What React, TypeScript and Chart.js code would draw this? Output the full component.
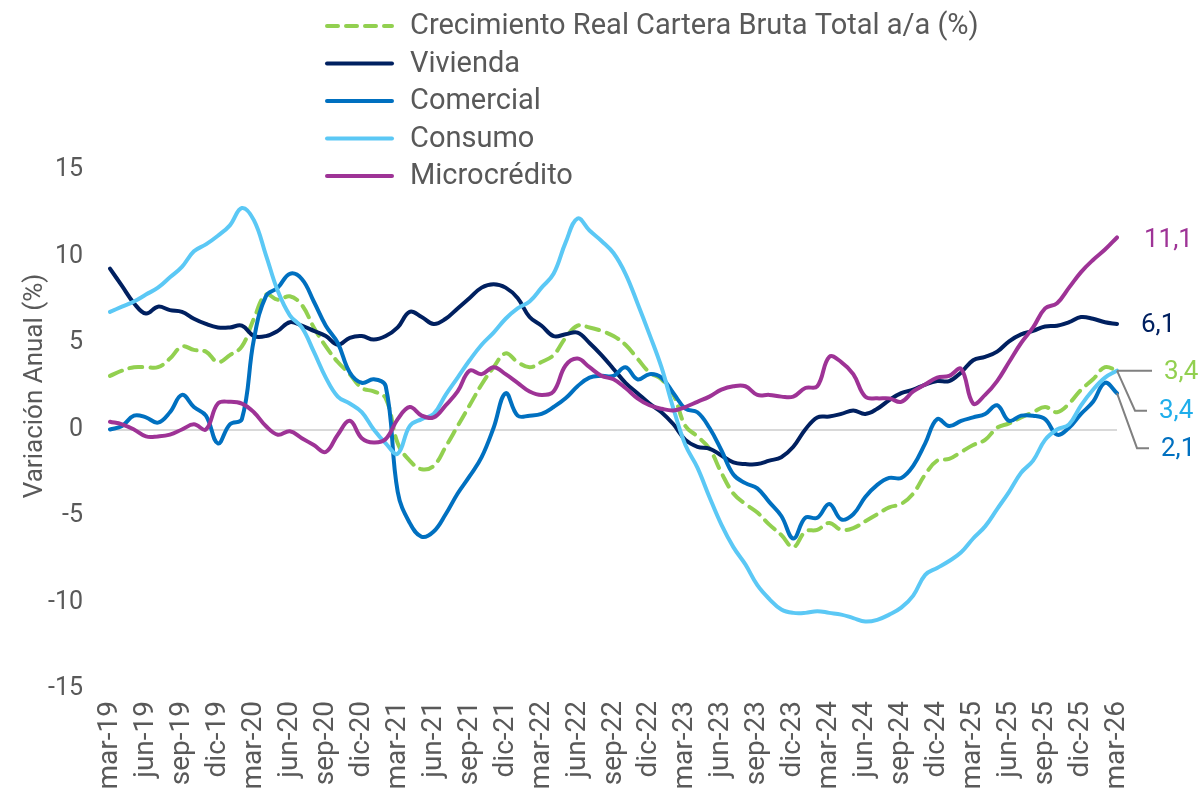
import React, { useEffect, useRef } from "react";
import { Chart, registerables } from "chart.js";
Chart.register(...registerables);

const categories = [
  "mar-19","abr-19","may-19","jun-19","jul-19","ago-19","sep-19","oct-19","nov-19","dic-19",
  "ene-20","feb-20","mar-20","abr-20","may-20","jun-20","jul-20","ago-20","sep-20","oct-20","nov-20","dic-20",
  "ene-21","feb-21","mar-21","abr-21","may-21","jun-21","jul-21","ago-21","sep-21","oct-21","nov-21","dic-21",
  "ene-22","feb-22","mar-22","abr-22","may-22","jun-22","jul-22","ago-22","sep-22","oct-22","nov-22","dic-22",
  "ene-23","feb-23","mar-23","abr-23","may-23","jun-23","jul-23","ago-23","sep-23","oct-23","nov-23","dic-23",
  "ene-24","feb-24","mar-24","abr-24","may-24","jun-24","jul-24","ago-24","sep-24","oct-24","nov-24","dic-24",
  "ene-25","feb-25","mar-25","abr-25","may-25","jun-25","jul-25","ago-25","sep-25","oct-25","nov-25","dic-25",
  "ene-26","feb-26","mar-26",
];

const total = [
  3.1, 3.4, 3.6, 3.6, 3.6, 4.1, 4.8, 4.6, 4.5, 3.9, 4.3, 4.8,
  6.4, 7.8, 7.5, 7.7, 7.2, 5.9, 4.8, 3.9, 3.2, 2.4, 2.2, 1.8,
  -0.8, -1.8, -2.3, -2.1, -1.0, 0.2, 1.4, 2.6, 3.6, 4.4, 3.9, 3.6,
  3.9, 4.3, 5.3, 6.0, 5.9, 5.7, 5.4, 4.9, 4.1, 3.3, 2.9, 2.0,
  0.2, -0.4, -1.1, -2.5, -3.7, -4.3, -4.8, -5.5, -6.1, -6.8, -5.9, -5.8,
  -5.4, -5.8, -5.7, -5.3, -4.9, -4.5, -4.3, -3.7, -2.6, -1.8, -1.7, -1.3,
  -0.9, -0.6, 0.1, 0.35, 0.7, 1.0, 1.3, 1.0, 1.5, 2.3, 2.9, 3.6,
  3.4,
];

const vivienda = [
  9.3, 8.3, 7.3, 6.7, 7.1, 6.9, 6.8, 6.4, 6.1, 5.9, 5.9, 6.0,
  5.4, 5.4, 5.7, 6.2, 6.0, 5.7, 5.4, 4.9, 5.3, 5.4, 5.2, 5.4,
  5.9, 6.8, 6.5, 6.1, 6.4, 7.0, 7.6, 8.2, 8.4, 8.2, 7.6, 6.5,
  6.0, 5.4, 5.5, 5.6, 5.0, 4.3, 3.5, 2.7, 2.1, 1.5, 1.0, 0.3,
  -0.6, -1.0, -1.1, -1.5, -1.9, -2.0, -2.0, -1.8, -1.6, -1.0, 0.0, 0.7,
  0.75, 0.9, 1.1, 0.9, 1.2, 1.7, 2.1, 2.3, 2.6, 2.8, 2.8, 3.3,
  4.0, 4.2, 4.5, 5.1, 5.5, 5.7, 5.95, 6.0, 6.2, 6.5, 6.4, 6.2,
  6.1,
];

const comercial = [
  0.0, 0.2, 0.8, 0.7, 0.4, 1.0, 2.0, 1.3, 0.8, -0.8, 0.3, 0.6,
  5.2, 7.7, 8.2, 9.0, 8.7, 7.4, 6.0, 5.0, 3.3, 2.7, 2.9, 2.5,
  -3.6, -5.4, -6.2, -5.9, -4.9, -3.7, -2.7, -1.6, 0.1, 2.1, 0.8, 0.8,
  0.9, 1.3, 1.8, 2.5, 3.0, 3.1, 3.1, 3.6, 2.9, 3.2, 3.0, 2.1,
  1.2, 1.0, 0.1, -1.2, -2.6, -3.1, -3.4, -4.2, -5.0, -6.3, -5.1, -5.1,
  -4.3, -5.2, -4.9, -3.9, -3.2, -2.8, -2.8, -2.1, -0.8, 0.6, 0.2, 0.5,
  0.7, 0.9, 1.4, 0.5, 0.8, 0.8, 0.6, -0.3, 0.1, 0.9, 1.6, 2.7,
  2.1,
];

const consumo = [
  6.8, 7.1, 7.4, 7.8, 8.2, 8.8, 9.4, 10.3, 10.7, 11.2, 11.8, 12.8,
  12.1, 10.1, 8.0, 6.6, 5.9, 4.5, 3.0, 1.9, 1.5, 1.0, 0.0, -0.8,
  -1.4, 0.2, 0.6, 0.9, 2.0, 3.0, 4.0, 4.9, 5.6, 6.4, 7.0, 7.4,
  8.2, 9.0, 10.8, 12.2, 11.5, 10.9, 10.2, 9.0, 7.3, 5.5, 3.6, 1.2,
  -0.9, -2.2, -3.9, -5.5, -6.8, -7.8, -9.0, -9.8, -10.4, -10.6, -10.6, -10.5,
  -10.6, -10.7, -10.9, -11.1, -11.0, -10.7, -10.3, -9.6, -8.4, -8.0, -7.6, -7.1,
  -6.3, -5.6, -4.6, -3.6, -2.5, -1.8, -0.6, 0.0, 0.3, 1.4, 2.3, 3.0,
  3.4,
];

const microcredito = [
  0.45, 0.3, 0.0, -0.4, -0.4, -0.3, 0.0, 0.3, 0.0, 1.5, 1.6, 1.5,
  1.0, 0.2, -0.3, -0.1, -0.5, -0.9, -1.3, -0.3, 0.5, -0.5, -0.75, -0.55,
  0.6, 1.3, 0.8, 0.7, 1.4, 2.2, 3.4, 3.2, 3.6, 3.2, 2.7, 2.2,
  2.0, 2.2, 3.7, 4.1, 3.6, 3.1, 2.9, 2.4, 1.8, 1.4, 1.2, 1.1,
  1.3, 1.6, 1.9, 2.3, 2.5, 2.5, 2.0, 2.0, 1.9, 1.9, 2.4, 2.5,
  4.2, 3.9, 3.2, 1.9, 1.8, 1.8, 1.6, 2.2, 2.6, 3.0, 3.1, 3.5,
  1.5, 2.0, 2.8, 3.9, 5.0, 5.9, 7.0, 7.3, 8.2, 9.1, 9.8, 10.4,
  11.1,
];

const seriesNames = [
  "Crecimiento Real Cartera Bruta Total a/a (%)",
  "Vivienda",
  "Comercial",
  "Consumo",
  "Microcrédito",
];
const seriesColors = ["#92D050", "#002060", "#0070C0", "#5BC8F5", "#9E3396"];
const endLabelColors = ["#92D050", "#002060", "#0070C0", "#1FAEEB", "#9E3396"];
const yTicks = [-15, -10, -5, 0, 5, 10, 15];
const yTitle = "Variación Anual (%)";

const FONT = "Roboto, 'Noto Sans', sans-serif";
const TEXT = "#595959";

export default function App() {
  const ref = useRef<HTMLCanvasElement | null>(null);

  useEffect(() => {
    const canvas = ref.current;
    if (!canvas) return;
    const allSeries = [total, vivienda, comercial, consumo, microcredito];

    const overlay = {
      id: "overlay",
      afterDraw(chart: any) {
        const ctx = chart.ctx as CanvasRenderingContext2D;
        const ys = chart.scales.y;
        const xs = chart.scales.x;
        ctx.save();
        // y title
        ctx.save();
        ctx.translate(35, 386);
        ctx.rotate(-Math.PI / 2);
        ctx.font = `26px ${FONT}`;
        ctx.fillStyle = TEXT;
        ctx.textAlign = "center";
        ctx.textBaseline = "middle";
        ctx.fillText(yTitle, 0, 0);
        ctx.restore();

        // legend
        const legY = [26, 63.5, 101, 138.5, 176];
        seriesNames.forEach((name, i) => {
          ctx.save();
          ctx.strokeStyle = seriesColors[i];
          ctx.lineWidth = 4;
          ctx.lineCap = "round";
          if (i === 0) ctx.setLineDash([11, 8]);
          ctx.beginPath();
          ctx.moveTo(327, legY[i]);
          ctx.lineTo(392, legY[i]);
          ctx.stroke();
          ctx.restore();
          ctx.font = `29px ${FONT}`;
          ctx.fillStyle = TEXT;
          ctx.textAlign = "left";
          ctx.textBaseline = "middle";
          ctx.fillText(name, 410, legY[i] + 1);
        });

        // end labels
        const last = categories.length - 1;
        const xEnd = xs.getPixelForValue(last);
        const vals = allSeries.map((s) => s[last]);
        const py = vals.map((v) => ys.getPixelForValue(v));
        const fmt = (v: number) => v.toFixed(1).replace(".", ",");
        ctx.font = `26px ${FONT}`;
        ctx.textBaseline = "middle";
        ctx.textAlign = "left";
        ctx.fillStyle = endLabelColors[4];
        ctx.fillText(fmt(vals[4]), 1144, py[4] + 3);
        ctx.fillStyle = endLabelColors[1];
        ctx.fillText(fmt(vals[1]), 1141, py[1] + 2);
        // connectors
        ctx.strokeStyle = "#808080";
        ctx.lineWidth = 2;
        ctx.setLineDash([]);
        ctx.beginPath();
        ctx.moveTo(xEnd, py[0]);
        ctx.lineTo(xEnd + 35, py[0]);
        ctx.moveTo(xEnd, py[3]);
        ctx.lineTo(xEnd + 18, py[3] + 40);
        ctx.lineTo(xEnd + 30, py[3] + 40);
        ctx.moveTo(xEnd, py[2]);
        ctx.lineTo(xEnd + 20, py[2] + 55);
        ctx.lineTo(xEnd + 32, py[2] + 55);
        ctx.stroke();
        ctx.fillStyle = endLabelColors[0];
        ctx.fillText(fmt(vals[0]), 1164, py[0] + 2);
        ctx.fillStyle = endLabelColors[3];
        ctx.fillText(fmt(vals[3]), 1159, py[3] + 41);
        ctx.fillStyle = endLabelColors[2];
        ctx.fillText(fmt(vals[2]), 1161, py[2] + 56);
        ctx.restore();
      },
    };

    const chart = new Chart(canvas, {
      type: "line",
      data: {
        labels: categories,
        datasets: allSeries.map((s, i) => ({
          label: seriesNames[i],
          data: s,
          borderColor: seriesColors[i],
          backgroundColor: seriesColors[i],
          borderWidth: 4,
          borderDash: i === 0 ? [13, 8] : [],
          pointRadius: 0,
          tension: 0.4,
          fill: false,
          order: 10 - i,
          borderCapStyle: "round" as const,
        })),
      },
      options: {
        responsive: false,
        animation: false,
        layout: { padding: { top: 170, right: 84, left: 0, bottom: 0 } },
        plugins: { legend: { display: false }, tooltip: { enabled: false }, title: { display: false } },
        scales: {
          x: {
            type: "category",
            offset: false,
            grid: { display: false, drawTicks: false },
            border: { display: false },
            ticks: {
              autoSkip: false,
              maxRotation: 90,
              minRotation: 90,
              padding: 12,
              color: TEXT,
              font: { family: FONT, size: 28 },
              callback: (_v: any, idx: number) => (idx % 3 === 0 ? categories[idx] : ""),
            },
            afterFit: (scale: any) => {
              scale.height = 110;
            },
          },
          y: {
            min: -15,
            max: 15,
            afterBuildTicks: (scale: any) => {
              scale.ticks = yTicks.map((v) => ({ value: v }));
            },
            grid: {
              drawTicks: false,
              lineWidth: 2,
              color: (c: any) => (c.tick && c.tick.value === 0 ? "#D9D9D9" : "rgba(0,0,0,0)"),
            },
            border: { display: false },
            ticks: {
              padding: 27,
              color: TEXT,
              font: { family: FONT, size: 25 },
              callback: (v: any) => String(v),
            },
            afterFit: (scale: any) => {
              scale.width = 110;
            },
          },
        },
      },
      plugins: [overlay],
    });
    return () => chart.destroy();
  }, []);

  return (
    <div style={{ position: "fixed", left: 0, top: 0, width: 1201, height: 799, background: "#fff" }}>
      <canvas ref={ref} width={1201} height={799} style={{ width: 1201, height: 799, display: "block" }} />
    </div>
  );
}
